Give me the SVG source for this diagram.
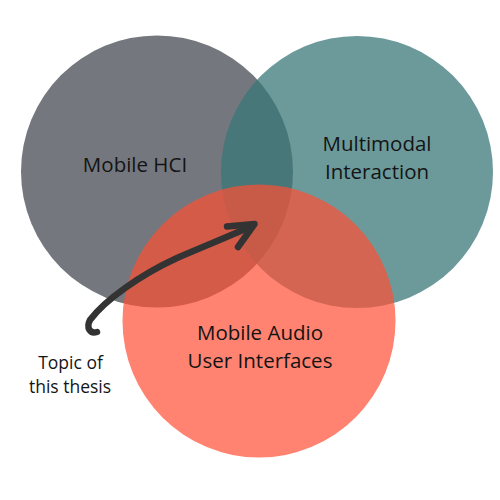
<svg xmlns="http://www.w3.org/2000/svg" width="500" height="500" viewBox="0 0 500 500">
  <style>
    .label { font-family: "Open Sans", "Noto Sans", sans-serif; font-size: 20.5px; fill: #141414; text-anchor: middle; }
    .note { font-family: "Open Sans", "Noto Sans", sans-serif; font-size: 17.5px; fill: #141414; text-anchor: middle; }
    .arrow { fill: none; stroke: #333333; stroke-width: 6.5; stroke-linecap: round; stroke-linejoin: round; }
  </style>
  <rect width="500" height="500" fill="#ffffff"/>

  <g id="mobile-hci">
    <circle cx="157" cy="171.5" r="136" fill="#74787e"/>
    <text class="label" x="135" y="172">Mobile HCI</text>
  </g>

  <g id="multimodal-interaction">
    <circle cx="357" cy="172" r="136" fill="#387778" fill-opacity="0.74"/>
    <text class="label" x="377" y="150.5">Multimodal</text>
    <text class="label" x="377" y="178.5">Interaction</text>
  </g>

  <g id="mobile-audio-ui">
    <circle cx="259" cy="321" r="136.5" fill="#ff4f33" fill-opacity="0.7"/>
    <text class="label" x="260" y="340">Mobile Audio</text>
    <text class="label" x="260" y="368">User Interfaces</text>
  </g>

  <g id="thesis-topic">
    <text class="note" x="70.5" y="368.5">Topic of</text>
    <text class="note" x="70" y="393">this thesis</text>
  </g>

  <g id="connectors">
    <path class="arrow" d="M 97,332 C 90,334 86,328 90,320 C 105,300 140,275 177,258 C 200,248 225,238 252,226"/>
    <polyline class="arrow" points="227,226.5 254.5,224 238,247"/>
  </g>
</svg>
